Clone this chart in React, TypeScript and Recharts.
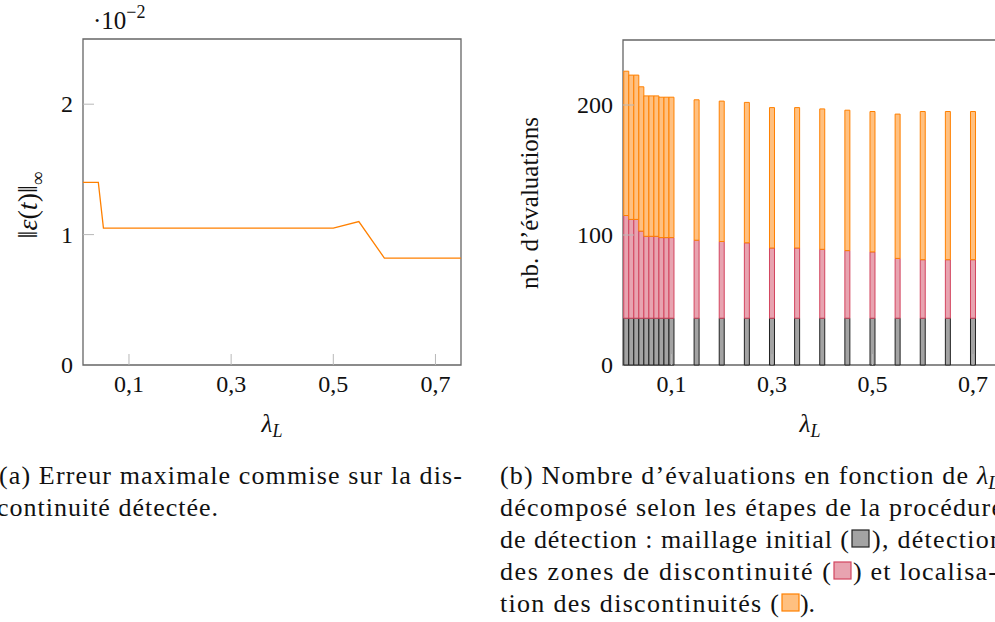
import React from "react";
import {
  Bar,
  BarChart,
  Line,
  LineChart,
  ReferenceArea,
  XAxis,
  YAxis,
} from "recharts";

// lambda_L values shared by both panels
const lambdas = [
  0.01, 0.02, 0.03, 0.04, 0.05, 0.06, 0.07, 0.08, 0.09, 0.1, 0.15, 0.2, 0.25,
  0.3, 0.35, 0.4, 0.45, 0.5, 0.55, 0.6, 0.65, 0.7, 0.75,
];

// max error on the detected discontinuity, in units of 1e-2
const maxError = [
  1.4, 1.4, 1.4, 1.4, 1.05, 1.05, 1.05, 1.05, 1.05, 1.05, 1.05, 1.05, 1.05,
  1.05, 1.05, 1.05, 1.05, 1.05, 1.1, 0.82, 0.82, 0.82, 0.82,
];

// number of evaluations per step
const initialMesh = [
  36, 36, 36, 36, 36, 36, 36, 36, 36, 36, 36, 36, 36, 36, 36, 36, 36, 36, 36,
  36, 36, 36, 36,
];
const zoneDetection = [
  79, 76, 76, 67, 63, 63, 63, 62, 62, 62, 60, 59, 58, 54, 54, 53, 52, 51, 46,
  45, 45, 45, 45,
];
const localisation = [
  111, 111, 111, 111, 108, 108, 108, 108, 108, 108, 108, 108, 108, 108, 108,
  108, 108, 108, 111, 114, 114, 114, 114,
];

const xTicks = [0.1, 0.3, 0.5, 0.7];
const errTicks = [0, 1, 2];
const evalTicks = [0, 100, 200];

const SERIF =
  "'Times New Roman', Times, 'Liberation Serif', 'DejaVu Serif', 'Nimbus Roman', FreeSerif, Tinos, serif";
const FRAME = "#666666";
const TICK = "#b8b8b8";

const GREY = { fill: "#a3a3a3", stroke: "#222222" };
const PINK = { fill: "#e8a3b0", stroke: "#d3455f" };
const ORANGE = { fill: "#ffc080", stroke: "#ff8000" };

const errData = lambdas.map((x, i) => ({ x, err: maxError[i] }));
const evalData = lambdas.map((x, i) => ({
  x,
  mesh: initialMesh[i],
  zones: zoneDetection[i],
  loc: localisation[i],
}));

const fmt = (v: number) => v.toFixed(1).replace(".", ",");
const serifStyle = { fontFamily: SERIF };

function XTick(props: any) {
  const { x, y, payload } = props;
  return (
    <g>
      <line x1={x} x2={x} y1={y} y2={y - 11} stroke={TICK} strokeWidth={1} />
      <text x={x} y={y + 27} textAnchor="middle" style={serifStyle} fontSize={24} fill="#111">
        {fmt(payload.value)}
      </text>
    </g>
  );
}

function YTick(props: any) {
  const { x, y, payload } = props;
  return (
    <g>
      {payload.value !== 0 && (
        <line x1={x} x2={x + 11} y1={y} y2={y} stroke={TICK} strokeWidth={1} />
      )}
      <text x={x - 10} y={y + 8} textAnchor="end" style={serifStyle} fontSize={24} fill="#111">
        {payload.value}
      </text>
    </g>
  );
}

function ErrorChart() {
  return (
    <LineChart
      width={480}
      height={450}
      data={errData}
      margin={{ top: 39, right: 19, bottom: 0, left: 0 }}
    >
      <XAxis
        dataKey="x"
        type="number"
        domain={[0.01, 0.75]}
        ticks={xTicks}
        allowDataOverflow
        height={85}
        axisLine={false}
        tickLine={false}
        tickSize={0}
        tickMargin={0}
        tick={(p: any) => <XTick {...p} />}
      />
      <YAxis
        type="number"
        domain={[0, 2.5]}
        ticks={errTicks}
        width={83}
        axisLine={false}
        tickLine={false}
        tickSize={0}
        tickMargin={0}
        tick={(p: any) => <YTick {...p} />}
      />
      <ReferenceArea
        x1={0.01}
        x2={0.75}
        y1={0}
        y2={2.5}
        fill="none"
        stroke={FRAME}
        strokeWidth={1.3}
        fillOpacity={0}
      />
      <Line
        type="linear"
        dataKey="err"
        stroke="#ff8000"
        strokeWidth={1.3}
        dot={false}
        isAnimationActive={false}
      />
    </LineChart>
  );
}

function EvalChart() {
  return (
    <BarChart
      width={500}
      height={450}
      data={evalData}
      margin={{ top: 40, right: 19, bottom: 0, left: 0 }}
      barGap={0}
    >
      <XAxis
        dataKey="x"
        type="number"
        domain={[0.0035, 0.7557]}
        ticks={xTicks}
        allowDataOverflow
        height={85}
        axisLine={false}
        tickLine={false}
        tickSize={0}
        tickMargin={0}
        tick={(p: any) => <XTick {...p} />}
      />
      <YAxis
        type="number"
        domain={[0, 250]}
        ticks={evalTicks}
        width={103}
        axisLine={false}
        tickLine={false}
        tickSize={0}
        tickMargin={0}
        tick={(p: any) => <YTick {...p} />}
      />
      <ReferenceArea
        x1={0.0035}
        x2={0.7557}
        y1={0}
        y2={250}
        fill="none"
        stroke={FRAME}
        strokeWidth={1.3}
        fillOpacity={0}
      />
      <Bar dataKey="mesh" stackId="a" barSize={5} fill={GREY.fill} stroke={GREY.stroke} strokeWidth={1} isAnimationActive={false} />
      <Bar dataKey="zones" stackId="a" barSize={5} fill={PINK.fill} stroke={PINK.stroke} strokeWidth={1} isAnimationActive={false} />
      <Bar dataKey="loc" stackId="a" barSize={5} fill={ORANGE.fill} stroke={ORANGE.stroke} strokeWidth={1} isAnimationActive={false} />
    </BarChart>
  );
}

function Swatch({ x, y, c }: { x: number; y: number; c: { fill: string; stroke: string } }) {
  return (
    <rect x={x} y={y - 18} width={17} height={17} fill={c.fill} stroke={c.stroke} strokeWidth={1.2} />
  );
}

function Texts() {
  const t = { style: serifStyle, fontSize: 26, fill: "#111" };
  const ax = { style: serifStyle, fontSize: 25, fill: "#111" };
  const L = [484, 516, 548, 580, 612];
  return (
    <svg
      width={995}
      height={622}
      style={{ position: "absolute", left: 0, top: 0, pointerEvents: "none" }}
    >
      {/* left panel labels */}
      <text x={93} y={29} {...ax}>
        ·10
        <tspan dy={-11} fontSize={18}>−2</tspan>
      </text>
      <text transform="translate(37,205) rotate(-90)" textAnchor="middle" {...ax} fontSize={28}>
        ‖<tspan fontStyle="italic">ε</tspan>(<tspan fontStyle="italic">t</tspan>)‖
        <tspan dy={7} fontSize={19}>∞</tspan>
      </text>
      <text x={272} y={432} textAnchor="middle" {...ax}>
        <tspan fontStyle="italic">λ</tspan>
        <tspan dy={5} fontSize={18} fontStyle="italic">L</tspan>
      </text>

      {/* right panel labels */}
      <text transform="translate(538,203) rotate(-90)" textAnchor="middle" {...ax}>
        nb. d’évaluations
      </text>
      <text x={810} y={432} textAnchor="middle" {...ax}>
        <tspan fontStyle="italic">λ</tspan>
        <tspan dy={5} fontSize={18} fontStyle="italic">L</tspan>
      </text>

      {/* captions */}
      <text x={-1} y={L[0]} textLength={463} lengthAdjust="spacing" {...t}>
        (a) Erreur maximale commise sur la dis-
      </text>
      <text x={-3} y={L[1]} textLength={221} lengthAdjust="spacing" {...t}>
        continuité détectée.
      </text>

      <text x={500} y={L[0]} textLength={468} lengthAdjust="spacing" {...t}>
        (b) Nombre d’évaluations en fonction de
      </text>
      <text x={977} y={L[0]} {...t}>
        <tspan fontStyle="italic">λ</tspan>
        <tspan dy={5} fontSize={19} fontStyle="italic">L</tspan>
      </text>
      <text x={500} y={L[1]} textLength={503} lengthAdjust="spacing" {...t}>
        décomposé selon les étapes de la procédure
      </text>
      <text x={500} y={L[2]} textLength={349} lengthAdjust="spacing" {...t}>
        de détection : maillage initial (
      </text>
      <Swatch x={852} y={L[2]} c={GREY} />
      <text x={872} y={L[2]} textLength={131} lengthAdjust="spacing" {...t}>
        ), détection
      </text>
      <text x={500} y={L[3]} textLength={331} lengthAdjust="spacing" {...t}>
        des zones de discontinuité (
      </text>
      <Swatch x={834} y={L[3]} c={PINK} />
      <text x={853} y={L[3]} textLength={144} lengthAdjust="spacing" {...t}>
        ) et localisa-
      </text>
      <text x={500} y={L[4]} textLength={279} lengthAdjust="spacing" {...t}>
        tion des discontinuités (
      </text>
      <Swatch x={782} y={L[4]} c={ORANGE} />
      <text x={800} y={L[4]} textLength={15} lengthAdjust="spacing" {...t}>
        ).
      </text>
    </svg>
  );
}

export default function App() {
  return (
    <div
      style={{
        position: "fixed",
        left: 0,
        top: 0,
        width: 995,
        height: 622,
        overflow: "hidden",
        background: "#fff",
        fontFamily: SERIF,
      }}
    >
      <div style={{ position: "absolute", left: 0, top: 0 }}>
        <ErrorChart />
      </div>
      <div style={{ position: "absolute", left: 520, top: 0 }}>
        <EvalChart />
      </div>
      <Texts />
    </div>
  );
}
